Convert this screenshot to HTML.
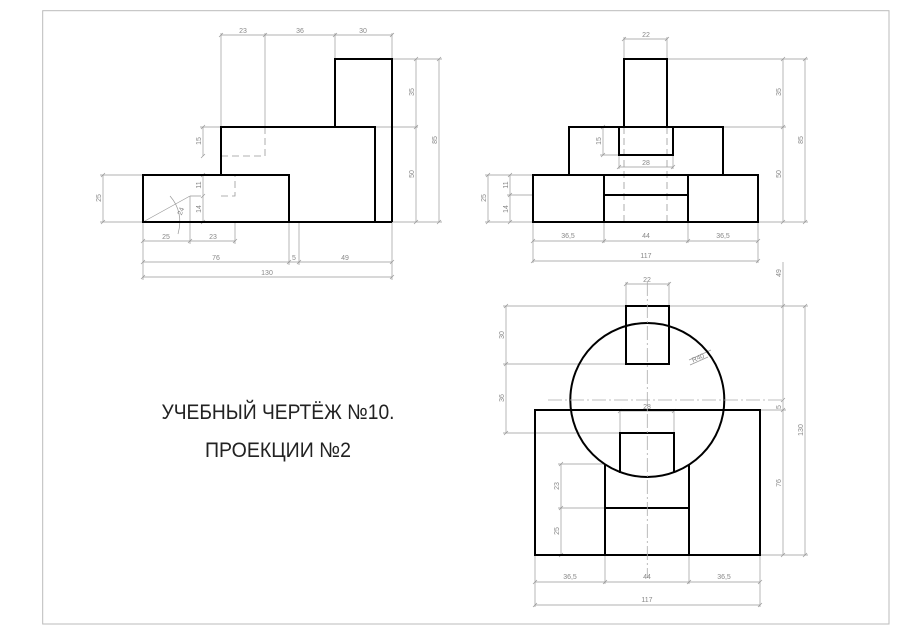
<!DOCTYPE html>
<html><head><meta charset="utf-8"><style>
html,body{margin:0;padding:0;background:#fff;}
svg{display:block;}
.t{stroke:#000;stroke-width:2;fill:none;stroke-linejoin:miter;}
.d{stroke:#999;stroke-width:0.7;fill:none;}
.h{stroke:#999;stroke-width:0.8;fill:none;stroke-dasharray:7 4;}
.c{stroke:#aaa;stroke-width:0.8;fill:none;stroke-dasharray:14 3 2 3;}
text.l{font-family:"Liberation Sans",sans-serif;font-size:7px;fill:#888;text-anchor:middle;}
text.ti{font-family:"Liberation Sans","Noto Sans CJK SC",sans-serif;font-size:21px;fill:#222;text-anchor:middle;}
</style></head><body>
<svg width="900" height="636" viewBox="0 0 900 636" xmlns="http://www.w3.org/2000/svg">
<rect x="42.7" y="10.7" width="846.3" height="613.3" fill="none" stroke="#bbb" stroke-width="1"/>

<!-- ===== LEFT VIEW ===== -->
<g class="d">
<path d="M221,127V33 M265,127V33 M335,59V33 M392,59V33"/>
<path d="M392,59H442 M375,127H418 M392,222H442"/>
<path d="M221,127H200 M221,175H200 M143,175H100 M143,222H100"/>
<path d="M143,222V280 M190,196V244 M235,222V244 M289,222V265 M299,222V265 M392,222V280"/>
<path d="M221,35H392 M203,127V156 M203,175V222 M103,175V222 M416,59V222 M439,59V222"/>
<path d="M143,241H235 M143,262H392 M143,277H392"/>
<path d="M219,37l4,-4 M263,37l4,-4 M333,37l4,-4 M390,37l4,-4
M201,129l4,-4 M201,158l4,-4 M201,177l4,-4 M201,198l4,-4 M201,224l4,-4
M101,177l4,-4 M101,224l4,-4
M414,61l4,-4 M414,129l4,-4 M414,224l4,-4 M437,61l4,-4 M437,224l4,-4
M141,243l4,-4 M188,243l4,-4 M233,243l4,-4
M141,264l4,-4 M287,264l4,-4 M297,264l4,-4 M390,264l4,-4
M141,279l4,-4 M390,279l4,-4"/>
<path d="M143,222L190,196 M190,196H201"/>
<path d="M170,196Q184,212 178,234" />
</g>
<path class="h" d="M221,156H265V127 M221,196H235V175"/>
<path class="t" d="M143,175H289V222H143Z M221,175V127H375V222 M289,222H392 M335,127V59H392V222"/>
<g>
<text class="l" x="243" y="33">23</text><text class="l" x="300" y="33">36</text><text class="l" x="363" y="33">30</text>
<text class="l" transform="translate(201,141) rotate(-90)">15</text>
<text class="l" transform="translate(201,185) rotate(-90)">11</text>
<text class="l" transform="translate(201,209) rotate(-90)">14</text>
<text class="l" transform="translate(101,198) rotate(-90)">25</text>
<text class="l" transform="translate(414,92) rotate(-90)">35</text>
<text class="l" transform="translate(414,174) rotate(-90)">50</text>
<text class="l" transform="translate(437,140) rotate(-90)">85</text>
<text class="l" x="166" y="239">25</text><text class="l" x="213" y="239">23</text>
<text class="l" x="216" y="260">76</text><text class="l" x="294" y="260">5</text><text class="l" x="345" y="260">49</text>
<text class="l" x="267" y="275">130</text>
<text class="l" transform="translate(183,212) rotate(-70)">24</text>
</g>

<!-- ===== FRONT VIEW (top right) ===== -->
<g class="d">
<path d="M624,59V37 M667,59V37 M667,59H808 M723,127H786 M758,222H808"/>
<path d="M624,39H667 M783,59V222 M805,59V222"/>
<path d="M619,127H600 M619,155H600 M603,127V155 M619,155V169 M673,155V169 M619,167H673"/>
<path d="M533,175H485 M533,195H507 M533,222H485 M510,175V222 M488,175V222"/>
<path d="M533,222V263 M604,222V243 M688,222V243 M758,222V263 M533,241H758 M533,261H758"/>
<path d="M622,41l4,-4 M665,41l4,-4 M781,61l4,-4 M781,129l4,-4 M781,224l4,-4 M803,61l4,-4 M803,224l4,-4
M601,129l4,-4 M601,157l4,-4 M617,169l4,-4 M671,169l4,-4
M508,177l4,-4 M508,197l4,-4 M508,224l4,-4 M486,177l4,-4 M486,224l4,-4
M531,243l4,-4 M602,243l4,-4 M686,243l4,-4 M756,243l4,-4 M531,263l4,-4 M756,263l4,-4"/>
</g>
<path class="h" d="M624,127V222 M667,127V222"/>
<path class="t" d="M624,127V59H667V127 M569,175V127H723V175 M619,127V155H673V127 M533,175H758V222H533Z M604,175V222 M688,175V222 M604,195H688"/>
<g>
<text class="l" x="646" y="37">22</text>
<text class="l" transform="translate(601,141) rotate(-90)">15</text>
<text class="l" x="646" y="165">28</text>
<text class="l" transform="translate(508,185) rotate(-90)">11</text>
<text class="l" transform="translate(508,209) rotate(-90)">14</text>
<text class="l" transform="translate(486,198) rotate(-90)">25</text>
<text class="l" transform="translate(781,92) rotate(-90)">35</text>
<text class="l" transform="translate(781,174) rotate(-90)">50</text>
<text class="l" transform="translate(803,140) rotate(-90)">85</text>
<text class="l" x="568" y="238">36,5</text><text class="l" x="646" y="238">44</text><text class="l" x="723" y="238">36,5</text>
<text class="l" x="646" y="258">117</text>
</g>

<!-- ===== TOP VIEW (bottom right) ===== -->
<g class="d">
<path d="M626,306V282 M669,306V282 M626,284H669"/>
<path d="M626,306H503 M626,364H503 M620,433H503 M506,306V433"/>
<path d="M669,306H808 M760,410H786 M760,555H808 M783,262V410 M805,306V555 M783,410V555"/>
<path d="M620,433V409 M674,433V409 M620,411H674"/>
<path d="M605,464H558 M605,508H558 M561,464V555"/>
<path d="M535,555V607 M605,555V584 M689,555V584 M760,555V607 M535,582H760 M535,605H760"/>
<path d="M689,360L711,350 M690,365l18,-8"/>
<path d="M624,286l4,-4 M667,286l4,-4 M504,308l4,-4 M504,366l4,-4 M504,435l4,-4
M781,308l4,-4 M781,402l4,-4 M781,412l4,-4 M781,557l4,-4 M803,308l4,-4 M803,557l4,-4
M618,413l4,-4 M672,413l4,-4 M559,466l4,-4 M559,510l4,-4 M559,557l4,-4
M533,584l4,-4 M603,584l4,-4 M687,584l4,-4 M758,584l4,-4 M533,607l4,-4 M758,607l4,-4"/>
</g>
<rect class="t" x="535" y="410" width="225" height="145" fill="#fff"/>
<circle class="t" cx="647.3" cy="400" r="77" fill="#fff"/>
<path class="t" d="M605,465V555 M689,465V555 M605,508H689 M620,473V433H674V472"/>
<rect class="t" x="626" y="306" width="43" height="58" fill="#fff"/>
<path class="c" d="M647.3,282V578 M548,400H783"/>
<g>
<text class="l" x="647" y="282">22</text>
<text class="l" transform="translate(504,335) rotate(-90)">30</text>
<text class="l" transform="translate(504,398) rotate(-90)">36</text>
<text class="l" x="647" y="409">28</text>
<text class="l" transform="translate(559,486) rotate(-90)">23</text>
<text class="l" transform="translate(559,531) rotate(-90)">25</text>
<text class="l" transform="translate(781,273) rotate(-90)">49</text>
<text class="l" transform="translate(781,407) rotate(-90)">5</text>
<text class="l" transform="translate(781,483) rotate(-90)">76</text>
<text class="l" transform="translate(803,430) rotate(-90)">130</text>
<text class="l" transform="translate(699,360) rotate(-24)">R40</text>
<text class="l" x="570" y="579">36,5</text><text class="l" x="647" y="579">44</text><text class="l" x="724" y="579">36,5</text>
<text class="l" x="647" y="602">117</text>
</g>

<!-- title -->
<text class="ti" x="278" y="419" textLength="233" lengthAdjust="spacingAndGlyphs">УЧЕБНЫЙ ЧЕРТЁЖ №10.</text>
<text class="ti" x="278" y="457" textLength="146" lengthAdjust="spacingAndGlyphs">ПРОЕКЦИИ №2</text>
</svg>
</body></html>
